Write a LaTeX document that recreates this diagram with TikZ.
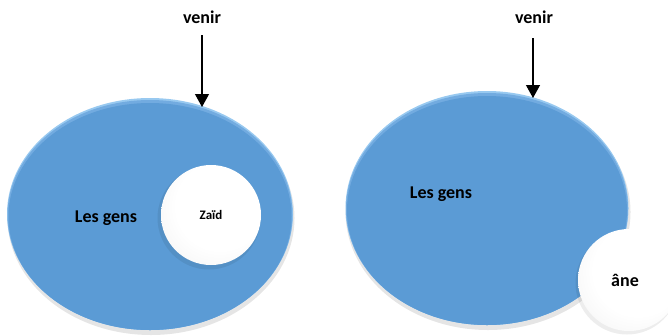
\documentclass[tikz,border=0pt]{standalone}
\usepackage{fontspec}
\setmainfont{Carlito}
\usetikzlibrary{arrows.meta,shapes.geometric}
\definecolor{blueMain}{HTML}{5B9BD5}
\definecolor{blueMid}{HTML}{72ABE0}
\definecolor{blueRim}{HTML}{98C9F0}
\pgfdeclareradialshading{ballshade}{\pgfpoint{8bp}{8bp}}{color(0bp)=(white); color(22bp)=(white); color(38bp)=(white!90!gray); color(50bp)=(white!68!gray)}
\tikzset{
  lbl/.style={font=\bfseries\fontsize{18}{20}\selectfont, text=black, inner sep=0pt},
  smalllbl/.style={font=\bfseries\fontsize{13}{15}\selectfont, text=black, inner sep=0pt},
  ellbase/.style={ellipse, inner sep=0pt},
  ball/.style={circle, inner sep=0pt, minimum size=102pt, shading=ballshade},
  ballshadow/.style={circle, inner sep=0pt, minimum size=103pt, fill=black, opacity=0.07},
  arr/.style={line width=1.2pt, -{Triangle[width=14pt,length=13pt]}}
}
\begin{document}
\begin{tikzpicture}[x=1pt,y=-1pt]
\useasboundingbox (0,0) rectangle (668,335);
% ---- left ellipse ----
\node[ellbase, minimum width=287pt, minimum height=234pt, fill=black, opacity=0.10] at (151,218) {};
\node[ellbase, minimum width=286pt, minimum height=232pt, fill=blueRim] (E1) at (150,214) {};
\node[ellbase, minimum width=285pt, minimum height=230pt, fill=blueMid] at (150,215) {};
\node[ellbase, minimum width=283pt, minimum height=227pt, fill=blueMain] at (150,216.5) {};
\node[lbl] (G1) at (106,218) {Les gens};
% Zaid circle
\node[ballshadow] at (209,218) {};
\node[ball, minimum size=100pt] (Z) at (211,215) {};
\node[smalllbl] at (Z) {Zaïd};
% arrow left
\node[lbl] (V1) at (202,17) {venir};
\coordinate (S1) at (202,35);
\coordinate (T1) at (202,107);
\draw[arr] (S1) -- (T1);
% ---- right ellipse ----
\node[ellbase, minimum width=285pt, minimum height=236pt, fill=black, opacity=0.10] at (488,212) {};
\node[ellbase, minimum width=283pt, minimum height=234pt, fill=blueRim] (E2) at (487,208) {};
\node[ellbase, minimum width=282pt, minimum height=232pt, fill=blueMid] at (487,209) {};
\node[ellbase, minimum width=280pt, minimum height=229pt, fill=blueMain] at (487,210.5) {};
\node[lbl] (G2) at (441,194) {Les gens};
% ane circle
\node[ballshadow] at (627,283) {};
\node[ball] (A) at (629,280) {};
\node[lbl] at (625,280) {âne};
% arrow right
\node[lbl] (V2) at (534,17) {venir};
\coordinate (S2) at (533,38);
\coordinate (T2) at (533,98);
\draw[arr] (S2) -- (T2);
\end{tikzpicture}
\end{document}
